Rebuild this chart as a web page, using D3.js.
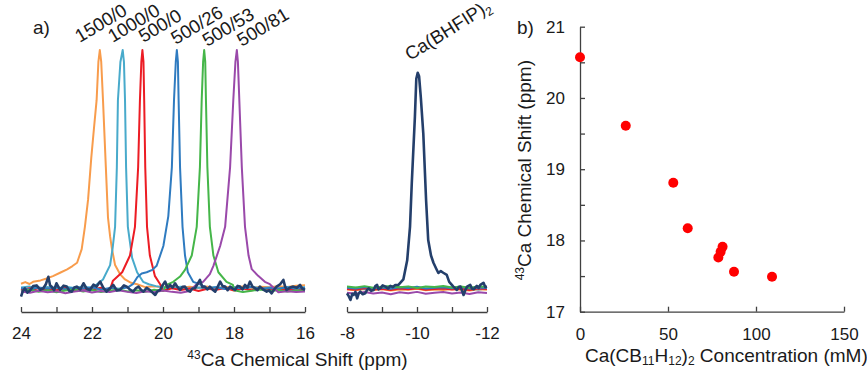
<!DOCTYPE html>
<html>
<head>
<meta charset="utf-8">
<script src="https://cdn.jsdelivr.net/npm/d3@7"></script>
<style>
  body { margin: 0; background: #fff; }
  svg { font-family: "Liberation Sans", Arial, sans-serif; }
</style>
</head>
<body>
<svg id="chart" width="867" height="370"></svg>
<script>
// ---- panel a data: 43Ca spectra (ppm, intensity; 100 = tallest peak) ----
const spectrumNames = ["1500/0", "1000/0", "500/0", "500/26", "500/53", "500/81"];
const spectrumColors = ["#f89c4c", "#48aacb", "#ec1c24", "#2f7bc0", "#45b649", "#9a49aa"];
const navyColor = "#243f6b";

const peak1500 = [[24.0,2.2],[23.88,2.9],[23.76,2.1],[23.66,3.0],[23.45,3.6],[23.3,4.3],[23.1,5.4],[22.9,6.8],[22.7,8.2],[22.55,9.6],[22.42,11],[22.29,16.7],[22.2,26],[22.11,37.5],[22.02,55],[21.94,68],[21.87,79],[21.82,95],[21.78,100],[21.74,95],[21.69,79],[21.61,51],[21.55,30],[21.49,22],[21.44,17],[21.35,10],[21.2,6],[21.07,4],[20.9,2.6],[20.73,2]];
const peak1000 = [[21.86,2],[21.69,4],[21.49,10],[21.42,17],[21.35,26],[21.30,51],[21.27,79],[21.20,95],[21.135,100],[21.10,95],[21.07,79],[21.04,51],[20.99,26],[20.87,13],[20.73,7],[20.56,3],[20.4,2],[20.2,1.2]];
const peak500 = [[21.41,3.5],[21.15,7],[20.93,14],[20.79,26],[20.70,51],[20.65,79],[20.61,95],[20.58,100],[20.55,95],[20.53,79],[20.50,51],[20.45,26],[20.37,14],[20.23,5.5],[20.08,2]];
const peak26 = [[20.85,2],[20.72,5],[20.6,6.5],[20.46,7],[20.3,8],[20.18,9.7],[19.99,18],[19.85,30.5],[19.75,51],[19.69,79],[19.64,95],[19.61,100],[19.58,95],[19.56,79],[19.52,51],[19.45,26],[19.38,14],[19.30,7],[19.15,3],[18.96,2]];
const peak53 = [[19.90,1.7],[19.71,3],[19.52,5.2],[19.38,8],[19.19,14],[19.05,26],[18.96,51],[18.91,79],[18.87,95],[18.84,100],[18.81,95],[18.79,79],[18.75,51],[18.68,26],[18.58,14],[18.44,7],[18.21,3],[18.03,1.7]];
const peak81 = [[19.05,2],[18.87,3],[18.68,6.2],[18.58,9.7],[18.39,18],[18.25,26],[18.11,51],[18.02,79],[17.96,95],[17.92,100],[17.89,95],[17.85,79],[17.78,51],[17.69,26],[17.59,14],[17.50,8.3],[17.32,5.5],[17.13,3],[16.99,2]];

// baseline readings on a 0.25 ppm grid
const gridLeft = [24,23.75,23.5,23.25,23,22.75,22.5,22.25,22,21.75,21.5,21.25,21,20.75,20.5,20.25,20,19.75,19.5,19.25,19,18.75,18.5,18.25,18,17.75,17.5,17.25,17,16.75,16.5,16.25,16];
const gridRight = [-8,-8.25,-8.5,-8.75,-9,-9.25,-9.5,-9.75,-10,-10.25,-10.5,-10.75,-11,-11.25,-11.5,-11.75,-12];

const base1500 = [2.3,2.7,2.4,3.0,2.6,2.2,2.0,1.8,1.5,1.4,1.2,1.4,1.0,1.2,0.8,1.1,0.7,1.2,0.5,0.9,0.4,1.0,0.3,0.8,0.6,1.1,0.4,0.9,0.7,1.2,0.8,1.4,1.6];
const base1000 = [0.6,1.0,0.2,0.8,0.1,0.9,0.4,1.1,0.3,0.6,0.2,0.5,0.8,0.3,0.9,0.2,0.7,0.4,0.9,0.1,0.6,0.3,0.8,0.2,0.7,0.4,0.9,0.3,0.6,0.1,0.8,0.5,0.7];
const base500 = [-0.4,0.3,-0.8,0.1,-0.5,0.4,-0.9,0.2,-0.3,0.5,-0.6,0.2,-0.2,0.4,-0.5,0.1,-0.7,0.3,-0.4,0.2,-0.8,0.1,-0.3,0.4,-0.6,0.2,-0.5,0.3,-0.2,0.1,-0.6,0.2,-0.3];
const base26 = [0.3,-0.2,0.6,0.1,0.8,-0.1,0.5,0.2,0.7,-0.3,0.4,0.1,0.6,-0.2,0.5,0.3,0.9,0.1,0.6,-0.1,0.4,0.2,0.7,0.0,0.5,0.3,0.8,-0.1,0.4,0.2,0.6,0.1,0.5];
const base53 = [-0.9,-0.3,-1.2,-0.5,-1.4,-0.6,-0.2,-1.1,-0.4,-1.3,-0.7,-0.2,-1.0,-0.5,-1.2,-0.3,-0.8,-0.1,-0.9,-0.4,-1.1,-0.6,-0.3,-1.0,-0.5,-1.3,-0.7,-0.2,-0.9,-0.4,-1.1,-0.6,-0.8];
const base81 = [-1.0,-1.6,-0.7,-1.4,-0.9,-1.8,-1.1,-0.6,-1.5,-0.8,-1.3,-0.5,-1.2,-1.7,-0.9,-1.4,-0.6,-1.2,-1.6,-0.8,-1.3,-0.7,-1.1,-0.5,-1.0,-1.5,-0.8,-1.2,-0.6,-1.4,-0.9,-1.3,-1.0];

const right1500 = [-0.2,-0.5,0.0,-0.4,-0.1,-0.6,-0.2,-0.3,0.1,-0.5,-0.2,-0.4,0.0,-0.3,-0.6,-0.1,-0.3];
const right1000 = [0.2,0.5,-0.1,0.4,0.1,0.6,0.0,0.3,0.5,-0.1,0.4,0.2,0.6,0.1,0.3,-0.2,0.2];
const right500 = [0.0,-0.3,0.3,-0.2,0.1,-0.4,0.2,-0.1,0.3,-0.3,0.0,0.2,-0.2,0.1,-0.4,0.2,0.0];
const right26 = [0.5,0.2,0.8,0.3,0.6,0.1,0.7,0.4,0.9,0.2,0.5,0.7,0.3,0.8,0.2,0.6,0.4];
const right53 = [1.0,0.6,1.2,0.5,0.9,1.3,0.7,1.1,0.4,1.0,0.8,1.3,0.6,1.0,0.5,1.1,0.8];
const right81 = [-1.6,-2.0,-1.3,-1.9,-1.5,-2.2,-1.4,-1.8,-1.2,-2.0,-1.6,-1.3,-1.9,-1.5,-2.1,-1.4,-1.7];

// Ca(BHFIP)2 spectrum
const navyLeft = [[24.0,-3.2],[23.95,-1.0],[23.89,0.3],[23.82,-1.5],[23.75,-0.7],[23.66,1.2],[23.56,1.5],[23.46,-0.3],[23.37,0.3],[23.3,2.0],[23.23,5.1],[23.18,1.5],[23.14,1.0],[23.07,-0.5],[23.0,2.4],[22.9,-0.4],[22.8,1.4],[22.71,1.0],[22.64,-0.8],[22.57,-1.1],[22.5,0.6],[22.43,1.0],[22.33,-0.2],[22.24,2.4],[22.15,0.1],[22.06,-0.4],[21.96,1.8],[21.87,1.0],[21.77,3.1],[21.68,0.5],[21.59,-1.1],[21.5,0.2],[21.4,1.7],[21.3,-0.6],[21.21,-0.4],[21.1,1.5],[21.02,1.0],[20.93,-0.2],[20.84,-1.1],[20.76,0.4],[20.69,1.0],[20.62,-0.3],[20.55,-1.1],[20.46,0.5],[20.37,-0.4],[20.3,-1.4],[20.22,-2.5],[20.15,-0.8],[20.08,-0.4],[20.01,1.6],[19.94,3.1],[19.87,0.4],[19.8,1.7],[19.73,0.6],[19.66,2.4],[19.59,0.8],[19.52,-0.4],[19.45,0.9],[19.38,1.0],[19.31,-0.6],[19.24,-1.1],[19.17,0.2],[19.1,0.3],[19.03,2.0],[18.96,3.8],[18.89,0.8],[18.82,1.0],[18.75,-0.2],[18.68,1.0],[18.6,-0.3],[18.53,-1.1],[18.46,0.9],[18.39,3.1],[18.32,1.2],[18.25,1.0],[18.18,-0.5],[18.11,1.0],[18.04,0.2],[17.97,-0.4],[17.9,1.3],[17.83,1.0],[17.76,-0.2],[17.69,1.7],[17.62,0.5],[17.55,3.1],[17.48,1.0],[17.41,0.3],[17.34,-0.5],[17.27,1.0],[17.17,-0.3],[17.08,-1.1],[17.01,-0.6],[16.94,-1.8],[16.87,-0.2],[16.8,1.0],[16.7,2.0],[16.61,3.8],[16.56,1.0],[16.52,-0.4],[16.42,0.6],[16.33,1.0],[16.23,0.5],[16.14,1.7],[16.08,0.2],[16.0,-0.4]];
const navyRight = [[-8.0,-1.8],[-8.05,-3.0],[-8.1,-4.6],[-8.15,-2.0],[-8.19,-2.5],[-8.24,-1.2],[-8.29,-3.9],[-8.33,-2.0],[-8.38,-1.1],[-8.45,-2.2],[-8.52,-1.8],[-8.57,-0.5],[-8.62,0.3],[-8.69,-0.8],[-8.76,-0.4],[-8.81,1.2],[-8.86,1.7],[-8.9,-0.2],[-8.95,0.3],[-9.02,1.5],[-9.1,1.0],[-9.17,0.2],[-9.24,1.3],[-9.31,0.8],[-9.38,1.7],[-9.47,1.7],[-9.61,4],[-9.72,12],[-9.80,26],[-9.85,44],[-9.94,72],[-9.98,88],[-10.02,90.5],[-10.06,89],[-10.11,80],[-10.18,65],[-10.26,37],[-10.32,20.5],[-10.4,14],[-10.47,11],[-10.55,8.5],[-10.61,6.7],[-10.68,7.5],[-10.75,6.8],[-10.85,5.9],[-10.92,3],[-11.04,1.0],[-11.14,-0.4],[-11.19,0.8],[-11.24,1.0],[-11.29,-0.8],[-11.33,-2.5],[-11.38,-0.5],[-11.43,1.0],[-11.52,1.7],[-11.57,0.2],[-11.62,-0.1],[-11.71,1.3],[-11.76,0.4],[-11.81,1.7],[-11.9,2.6],[-11.95,0.8],[-12.0,1.0]];

const ticksLeft = [24,23,22,21,20,19,18,17,16];
const ticksRight = [-8,-9,-10,-11,-12];

// ---- panel b data ----
const concentration = [0, 26, 53, 61.2, 78.6, 79.9, 81, 87.5, 109.1];
const shift = [20.57, 19.61, 18.81, 18.17, 17.76, 17.84, 17.91, 17.56, 17.49];
const concTicks = [0, 50, 100, 150];
const shiftTicks = [17, 17.5, 18, 18.5, 19, 19.5, 20, 20.5, 21];

const svg = d3.select("#chart");
const textColor = "#1a1a1a", axisColor = "#404040";

// merge baseline readings with the peak readings
function mergeSeries(peak, grid, base) {
  const pts = grid.map((p, i) => [p, base[i]]);
  if (!peak.length) return pts;
  const hi = d3.max(peak, d => d[0]), lo = d3.min(peak, d => d[0]);
  return pts.filter(d => d[0] > hi || d[0] < lo).concat(peak).sort((a, b) => b[0] - a[0]);
}

const peaks = [peak1500, peak1000, peak500, peak26, peak53, peak81];
const basesL = [base1500, base1000, base500, base26, base53, base81];
const basesR = [right1500, right1000, right500, right26, right53, right81];
const spectra = spectrumNames.map((name, i) => ({
  name, color: spectrumColors[i],
  left: mergeSeries(peaks[i], gridLeft, basesL[i]),
  right: mergeSeries([], gridRight, basesR[i]),
  top: peaks[i].reduce((a, b) => b[1] > a[1] ? b : a)[0]
}));

// ---- panel a ----
const xLeft = d3.scaleLinear().domain([24, 16]).range([21, 305]);
const xRight = d3.scaleLinear().domain([-8, -12]).range([347, 487]);
const ySpec = d3.scaleLinear().domain([0, 100]).range([289, 50]);
const axisY = 312;

const defs = svg.append("defs");
defs.append("clipPath").attr("id", "clipL").append("rect")
  .attr("x", 20).attr("y", 0).attr("width", 286).attr("height", axisY - 2);
defs.append("clipPath").attr("id", "clipR").append("rect")
  .attr("x", 346).attr("y", 0).attr("width", 142).attr("height", axisY - 2);

const lineL = d3.line().x(d => xLeft(d[0])).y(d => ySpec(d[1]));
const lineR = d3.line().x(d => xRight(d[0])).y(d => ySpec(d[1]));

const gL = svg.append("g").attr("clip-path", "url(#clipL)");
const gR = svg.append("g").attr("clip-path", "url(#clipR)");

spectra.forEach(s => {
  gL.append("path").attr("d", lineL(s.left)).attr("fill", "none")
    .attr("stroke", s.color).attr("stroke-width", 2).attr("stroke-linejoin", "round");
  gR.append("path").attr("d", lineR(s.right)).attr("fill", "none")
    .attr("stroke", s.color).attr("stroke-width", 2).attr("stroke-linejoin", "round");
});
gL.append("path").attr("d", lineL(navyLeft)).attr("fill", "none")
  .attr("stroke", navyColor).attr("stroke-width", 2.6).attr("stroke-linejoin", "round");
gR.append("path").attr("d", lineR(navyRight)).attr("fill", "none")
  .attr("stroke", navyColor).attr("stroke-width", 2.6).attr("stroke-linejoin", "round");

function styleAxis(g) {
  g.selectAll("path, line").attr("stroke", axisColor).attr("stroke-width", 1.3);
  g.selectAll("text").attr("fill", textColor).style("font-size", "17px")
    .style("font-family", "'Liberation Sans', Arial, sans-serif");
}

svg.append("g").attr("transform", `translate(0,${axisY})`)
  .call(d3.axisBottom(xLeft).tickValues(ticksLeft).tickSize(-5).tickSizeOuter(0).tickPadding(15)
    .tickFormat(d => d % 2 === 0 ? String(d) : ""))
  .call(styleAxis);
svg.append("g").attr("transform", `translate(0,${axisY})`)
  .call(d3.axisBottom(xRight).tickValues(ticksRight).tickSize(-5).tickSizeOuter(0).tickPadding(15)
    .tickFormat(d => d % 2 === 0 ? String(d) : ""))
  .call(styleAxis);

// peak labels
const labelDx = [-20, -10, 1, -1, 3, 5];
const labelY = [43, 43, 43, 45, 47, 47];
spectra.forEach((s, i) => {
  svg.append("text")
    .attr("transform", `translate(${xLeft(s.top) + labelDx[i]},${labelY[i]}) rotate(-31)`)
    .attr("fill", textColor).style("font-size", "18.5px")
    .text(s.name);
});
const bhfip = svg.append("text")
  .attr("transform", `translate(${xRight(-10) - 7},61) rotate(-32)`)
  .attr("fill", textColor).style("font-size", "18.5px");
bhfip.append("tspan").text("Ca(BHFIP)");
bhfip.append("tspan").attr("dy", 4).style("font-size", "12px").text("2");

const titleA = svg.append("text").attr("x", 297.5).attr("y", 366)
  .attr("text-anchor", "middle").attr("fill", textColor).style("font-size", "19px");
titleA.append("tspan").attr("dy", -7).style("font-size", "12px").text("43");
titleA.append("tspan").attr("dy", 7).text("Ca Chemical Shift (ppm)");

svg.append("text").attr("x", 33).attr("y", 34).attr("fill", textColor)
  .style("font-size", "19px").text("a)");

// ---- panel b ----
const xConc = d3.scaleLinear().domain([0, 150]).range([580, 844]);
const yShift = d3.scaleLinear().domain([17, 21]).range([311.7, 26.7]);

svg.append("g").attr("transform", `translate(0,${yShift(17)})`)
  .call(d3.axisBottom(xConc).tickValues(concTicks).tickSize(-5).tickSizeOuter(0).tickPadding(16))
  .call(styleAxis);
svg.append("g").attr("transform", `translate(${xConc(0)},0)`)
  .call(d3.axisLeft(yShift).tickValues(shiftTicks).tickSize(-5).tickSizeOuter(0).tickPadding(15)
    .tickFormat(d => Number.isInteger(d) ? String(d) : ""))
  .call(styleAxis);

svg.append("g").selectAll("circle")
  .data(concentration.map((c, i) => ({ c, s: shift[i] })))
  .join("circle")
  .attr("cx", d => xConc(d.c))
  .attr("cy", d => yShift(d.s))
  .attr("r", 5)
  .attr("fill", "#ff0000");

const titleBy = svg.append("text")
  .attr("transform", `translate(531,${(yShift(17) + yShift(21)) / 2 + 1}) rotate(-90)`)
  .attr("text-anchor", "middle").attr("fill", textColor).style("font-size", "19px");
titleBy.append("tspan").attr("dy", -7).style("font-size", "12px").text("43");
titleBy.append("tspan").attr("dy", 7).text("Ca Chemical Shift (ppm)");

// subscripts sit just above the bottom edge
const titleBx = svg.append("text").attr("x", 585).attr("y", 362)
  .attr("fill", textColor).style("font-size", "19px");
titleBx.append("tspan").text("Ca(CB");
titleBx.append("tspan").attr("dy", 3).style("font-size", "12px").text("11");
titleBx.append("tspan").attr("dy", -3).text("H");
titleBx.append("tspan").attr("dy", 3).style("font-size", "12px").text("12");
titleBx.append("tspan").attr("dy", -3).text(")");
titleBx.append("tspan").attr("dy", 3).style("font-size", "12px").text("2");
titleBx.append("tspan").attr("dy", -3).text(" Concentration (mM)");

svg.append("text").attr("x", 517).attr("y", 34).attr("fill", textColor)
  .style("font-size", "19px").text("b)");
</script>
</body>
</html>
